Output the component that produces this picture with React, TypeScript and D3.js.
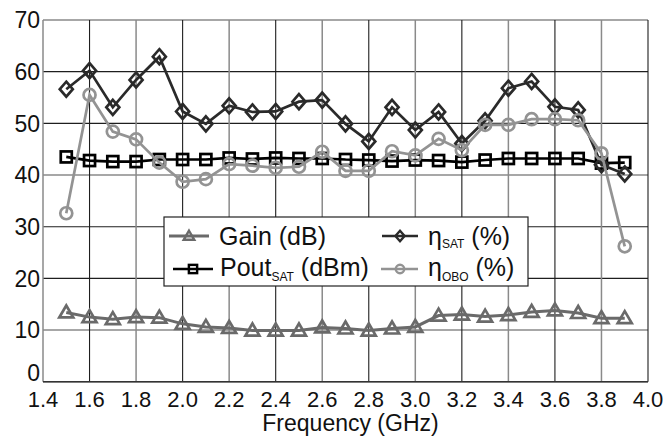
import React from "react";
import * as d3 from "d3";

const freq = [1.5, 1.6, 1.7, 1.8, 1.9, 2.0, 2.1, 2.2, 2.3, 2.4, 2.5, 2.6, 2.7, 2.8, 2.9, 3.0, 3.1, 3.2, 3.3, 3.4, 3.5, 3.6, 3.7, 3.8, 3.9];
const gain = [13.4, 12.5, 12.1, 12.5, 12.4, 11.2, 10.6, 10.4, 9.9, 9.9, 9.9, 10.5, 10.3, 9.9, 10.3, 10.6, 12.8, 13.0, 12.6, 12.9, 13.5, 13.8, 13.3, 12.3, 12.3];
const poutSat = [43.5, 42.8, 42.6, 42.6, 43.0, 43.0, 43.0, 43.3, 43.1, 43.3, 43.2, 43.2, 43.0, 42.9, 42.7, 42.9, 42.8, 42.5, 42.9, 43.2, 43.2, 43.2, 43.2, 42.3, 42.4];
const etaSat = [56.6, 60.2, 53.1, 58.4, 62.9, 52.3, 49.9, 53.4, 52.2, 52.3, 54.2, 54.5, 49.9, 46.5, 53.1, 48.7, 52.2, 46.1, 50.5, 56.8, 58.1, 53.2, 52.6, 42.0, 40.2];
const etaObo = [32.6, 55.5, 48.4, 46.9, 42.4, 38.7, 39.2, 42.1, 41.8, 41.4, 41.6, 44.5, 40.8, 40.8, 44.6, 43.8, 47.0, 44.8, 49.7, 49.7, 50.8, 50.8, 50.6, 44.2, 26.2];

const xTicks = [1.4, 1.6, 1.8, 2.0, 2.2, 2.4, 2.6, 2.8, 3.0, 3.2, 3.4, 3.6, 3.8, 4.0];
const yTicks = [0, 10, 20, 30, 40, 50, 60, 70];
const xGrayTicks = [1.4, 1.8, 2.2, 2.6, 3.0, 3.4, 3.8];
const yGrayTicks = [10, 40, 70];
const xTitle = "Frequency (GHz)";

const FONT = "'Liberation Sans', Arial, sans-serif";
const DARK = "#1e1e1e";
const GRAY = "#8a8a8a";

type Kind = "tri" | "sq" | "dia" | "circ";

function Marker({ kind, x, y, color, s = 1 }: { kind: Kind; x: number; y: number; color: string; s?: number }) {
  const sw = 2.7 * (s < 1 ? 0.9 : 1);
  if (kind === "circ") return <circle cx={x} cy={y} r={6 * s} fill="none" stroke={color} strokeWidth={sw} />;
  if (kind === "sq") return <rect x={x - 5.5 * s} y={y - 5.5 * s} width={11 * s} height={11 * s} fill="none" stroke={color} strokeWidth={sw} />;
  if (kind === "dia")
    return <path d={`M${x},${y - 7.5 * s}L${x + 6.5 * s},${y}L${x},${y + 7.5 * s}L${x - 6.5 * s},${y}Z`} fill="none" stroke={color} strokeWidth={sw} />;
  return <path d={`M${x},${y - 7 * s}L${x + 7 * s},${y + 5 * s}L${x - 7 * s},${y + 5 * s}Z`} fill="none" stroke={color} strokeWidth={sw} strokeLinejoin="miter" />;
}

export default function App() {
  const W = 668, H = 439;
  const x = d3.scaleLinear().domain([1.4, 4.0]).range([43, 648]);
  const y = d3.scaleLinear().domain([0, 70]).range([381.7, 20]);
  const line = d3.line<number>().x((_, i) => x(freq[i])).y((d) => y(d));

  const series: { vals: number[]; color: string; kind: Kind; w: number }[] = [
    { vals: gain, color: "#6a6a6a", kind: "tri", w: 3 },
    { vals: poutSat, color: "#000000", kind: "sq", w: 2.7 },
    { vals: etaSat, color: "#2a2a2a", kind: "dia", w: 2.7 },
    { vals: etaObo, color: "#939393", kind: "circ", w: 2.7 },
  ];

  const [x0, x1] = x.range();
  const [y0, y1] = y.range();

  return (
    <svg width={W} height={H} style={{ position: "absolute", left: 0, top: 0, background: "#fff" }} fontFamily={FONT}>
      <rect x={0} y={0} width={W} height={H} fill="#fff" />
      {/* grid */}
      {yTicks.map((t) => (
        <line key={"gy" + t} x1={x0} x2={x1} y1={y(t)} y2={y(t)} stroke={yGrayTicks.includes(t) ? GRAY : DARK} strokeWidth={yGrayTicks.includes(t) ? 1.5 : 1.1} />
      ))}
      {xTicks.map((t) => (
        <line key={"gx" + t} x1={x(t)} x2={x(t)} y1={y0} y2={y1} stroke={xGrayTicks.some((g) => Math.abs(g - t) < 1e-6) ? GRAY : DARK} strokeWidth={xGrayTicks.some((g) => Math.abs(g - t) < 1e-6) ? 1.5 : 1.1} />
      ))}
      <line x1={x0} x2={x1} y1={y0} y2={y0} stroke="#333" strokeWidth={1.5} />
      {/* tick labels */}
      {yTicks.map((t) => (
        <text key={"ly" + t} x={40} y={t === 0 ? y(t) - 1 : y(t)} dy={t === 0 ? "0" : "0.36em"} textAnchor="end" fontSize={23} fill="#111">
          {t}
        </text>
      ))}
      {xTicks.map((t) => (
        <text key={"lx" + t} x={x(t)} y={407} textAnchor="middle" fontSize={22} fill="#111">
          {t.toFixed(1)}
        </text>
      ))}
      <text x={(x0 + x1) / 2 + 5} y={431} textAnchor="middle" fontSize={23} fill="#111">
        {xTitle}
      </text>
      {/* series */}
      {series.map((s, si) => (
        <g key={"s" + si}>
          <path d={line(s.vals) || ""} fill="none" stroke={s.color} strokeWidth={s.w} />
          {s.vals.map((v, i) => (
            <Marker key={i} kind={s.kind} x={x(freq[i])} y={y(v)} color={s.color} />
          ))}
        </g>
      ))}
      {/* legend */}
      <g>
        <rect x={164} y={217} width={364} height={69} fill="#fff" stroke="#222" strokeWidth={1.2} />
        <line x1={169} x2={209} y1={236} y2={236} stroke="#6a6a6a" strokeWidth={3} />
        <Marker kind="tri" x={189} y={236} color="#6a6a6a" s={0.75} />
        <text x={219} y={245} fontSize={25} fill="#111">Gain (dB)</text>

        <line x1={173} x2={213} y1={269} y2={269} stroke="#000" strokeWidth={2.7} />
        <Marker kind="sq" x={193} y={269} color="#000" s={0.75} />
        <text x={220} y={276} fontSize={25} fill="#111">
          Pout<tspan fontSize={12} dy={5}>SAT</tspan>
          <tspan dy={-5}> (dBm)</tspan>
        </text>

        <line x1={382} x2={418} y1={236} y2={236} stroke="#2a2a2a" strokeWidth={2.7} />
        <Marker kind="dia" x={400} y={236} color="#2a2a2a" s={0.7} />
        <text x={428} y={245} fontSize={25} fill="#111">
          η<tspan fontSize={12} dy={3}>SAT</tspan>
          <tspan dy={-3}> (%)</tspan>
        </text>

        <line x1={381} x2={418} y1={269} y2={269} stroke="#939393" strokeWidth={2.7} />
        <Marker kind="circ" x={400} y={269} color="#939393" s={0.7} />
        <text x={428} y={276} fontSize={25} fill="#111">
          η<tspan fontSize={12} dy={5}>OBO</tspan>
          <tspan dy={-5}> (%)</tspan>
        </text>
      </g>
    </svg>
  );
}
